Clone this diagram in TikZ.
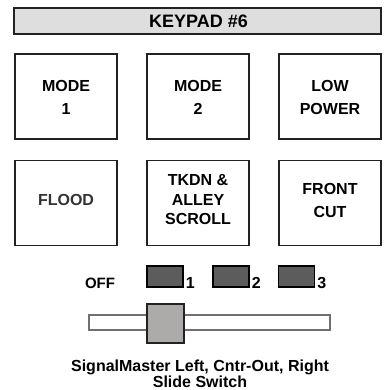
\documentclass[tikz,border=0pt]{standalone}
\usepackage{fontspec}
\setmainfont{Liberation Sans}
\definecolor{frame}{HTML}{222222}
\definecolor{titlefill}{HTML}{DEDEDE}
\definecolor{ledfill}{HTML}{5C5C5C}
\definecolor{knobfill}{HTML}{ADAAAA}
\definecolor{trackline}{HTML}{707070}
\definecolor{floodtext}{HTML}{333333}
\tikzset{
  keybox/.style={draw=frame, line width=1.6bp, minimum width=102bp, minimum height=85bp, inner sep=0pt},
  keytext/.style={align=center, inner sep=0pt, font=\fontsize{16bp}{23bp}\selectfont\bfseries},
  ledbox/.style={draw=black, line width=1.2bp, fill=ledfill, minimum width=36bp, minimum height=21bp, inner sep=0pt},
  ledlabel/.style={anchor=south west, inner sep=0pt, xshift=2bp, font=\fontsize{16bp}{18bp}\selectfont\bfseries},
}
\begin{document}
\begin{tikzpicture}[x=1bp, y=-1bp]
\useasboundingbox (0,0) rectangle (391,390);
% title
\node[draw=frame, line width=1.8bp, fill=titlefill, minimum width=367bp, minimum height=26bp, inner sep=0pt] (title) at (197.5,21) {};
\node[font=\fontsize{18bp}{20bp}\selectfont\bfseries, inner sep=0pt] (titletext) at (198.5,21) {KEYPAD \#6};
% row 1
\node[keybox] (k1) at (66,96.5) {};
\node[keybox] (k2) at (198,96.5) {};
\node[keybox] (k3) at (330,96.5) {};
\node[keytext] (t1) at ([yshift=-1]k1.center) {MODE\\1};
\node[keytext] (t2) at ([yshift=-1]k2.center) {MODE\\2};
\node[keytext] (t3) at ([yshift=-1]k3.center) {LOW\\POWER};
% row 2
\node[keybox] (k4) at (66,203) {};
\node[keybox] (k5) at (198,203) {};
\node[keybox] (k6) at (330,203) {};
\node[keytext, text=floodtext] (t4) at ([yshift=3]k4.center) {FLOOD};
\node[keytext, font=\fontsize{16bp}{19.5bp}\selectfont\bfseries] (t5) at ([yshift=3]k5.center) {TKDN \&\\ALLEY\\SCROLL};
\node[keytext] (t6) at ([yshift=3]k6.center) {FRONT\\CUT};
% switch positions
\node[anchor=base, inner sep=0pt, font=\fontsize{15bp}{17bp}\selectfont\bfseries] (off) at (100,288) {OFF};
\node[ledbox] (l1) at (165,276.5) {};
\node[ledbox] (l2) at (231,276.5) {};
\node[ledbox] (l3) at (296.5,276.5) {};
\node[ledlabel] (n1) at ([yshift=-1.5]l1.south east) {1};
\node[ledlabel] (n2) at ([yshift=-1.5]l2.south east) {2};
\node[ledlabel] (n3) at ([yshift=-1.5]l3.south east) {3};
% slider
\node[draw=trackline, line width=1.2bp, fill=white, minimum width=241bp, minimum height=15bp, inner sep=0pt] (track) at (209.5,322.5) {};
\node[draw=frame, line width=1.6bp, fill=knobfill, minimum width=37bp, minimum height=39bp, inner sep=0pt] (knob) at (165.5,323.5) {};
% caption
\node[anchor=base, align=center, inner sep=0pt, font=\fontsize{16bp}{16bp}\selectfont\bfseries] (caption) at (200,387.5) {SignalMaster Left, Cntr-Out, Right\\Slide Switch};
\end{tikzpicture}
\end{document}
